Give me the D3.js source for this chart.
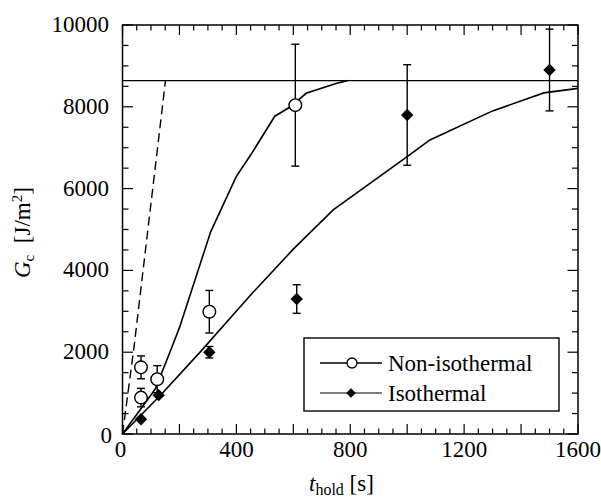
<!DOCTYPE html>
<html>
<head>
<meta charset="utf-8">
<script src="https://cdn.jsdelivr.net/npm/d3@7"></script>
<style>
  body { margin: 0; background: #fff; }
</style>
</head>
<body>
<div id="chart"></div>
<script>
// measured points
var nonIsoTime = [65, 65, 122, 305, 607];
var nonIsoGc = [1630, 890, 1340, 2990, 8040];
var nonIsoErr = [280, 225, 330, 520, 1490];

var isoTime = [65, 127, 305, 612, 1000, 1500];
var isoGc = [360, 950, 2000, 3300, 7800, 8900];
var isoErr = [0, 0, 140, 350, 1230, 1000];

// model curves
var nonIsoCurveT = [0, 115, 170, 200, 310, 400, 450, 535, 590, 645, 750, 790];
var nonIsoCurveG = [0, 1100, 2060, 2600, 4950, 6300, 6820, 7770, 8000, 8330, 8570, 8640];
var isoCurveT = [0, 135, 275, 450, 600, 740, 1000, 1080, 1300, 1480, 1600];
var isoCurveG = [0, 960, 2020, 3400, 4520, 5480, 6780, 7190, 7900, 8340, 8450];
var dashT = [0, 40, 151];
var dashG = [0, 2100, 8640];
var plateau = 8640;

var xTicks = [0, 400, 800, 1200, 1600];
var yTicks = [0, 2000, 4000, 6000, 8000, 10000];

var width = 601, height = 497;
var serif = "Liberation Serif";
var x = d3.scaleLinear().domain([0, 1600]).range([122.5, 578]);
var y = d3.scaleLinear().domain([0, 10000]).range([434, 25]);

var svg = d3.select("#chart").append("svg")
    .attr("width", width)
    .attr("height", height)
    .attr("font-family", serif);

var pairs = function(a, b) { return a.map(function(d, i) { return [d, b[i]]; }); };
var line = d3.line()
    .x(function(d) { return x(d[0]); })
    .y(function(d) { return y(d[1]); });

// frame
svg.append("rect")
    .attr("x", x(0)).attr("y", y(10000))
    .attr("width", x(1600) - x(0)).attr("height", y(0) - y(10000))
    .attr("fill", "none").attr("stroke", "#000").attr("stroke-width", 1.5);

// inward ticks on all four sides
var tickGroup = svg.append("g").attr("stroke", "#000").attr("stroke-width", 1.2);
d3.range(0, 1601, 50).forEach(function(t) {
  var len = t % 200 === 0 ? 10 : 5.5;
  tickGroup.append("line").attr("x1", x(t)).attr("x2", x(t)).attr("y1", y(0)).attr("y2", y(0) - len);
  tickGroup.append("line").attr("x1", x(t)).attr("x2", x(t)).attr("y1", y(10000)).attr("y2", y(10000) + len);
});
d3.range(0, 10001, 500).forEach(function(v) {
  var len = v % 2000 === 0 ? 10.5 : 6;
  tickGroup.append("line").attr("y1", y(v)).attr("y2", y(v)).attr("x1", x(0)).attr("x2", x(0) + len);
  tickGroup.append("line").attr("y1", y(v)).attr("y2", y(v)).attr("x1", x(1600)).attr("x2", x(1600) - len);
});

// tick labels
svg.selectAll(".xl").data(xTicks).enter().append("text")
    .attr("x", function(d) { return d === 0 ? x(d) - 2 : x(d); })
    .attr("y", 457)
    .attr("text-anchor", "middle")
    .attr("font-family", serif)
    .attr("font-size", 23)
    .text(function(d) { return d; });

svg.selectAll(".yl").data(yTicks).enter().append("text")
    .attr("x", function(d) { return d === 0 ? 112 : 109; })
    .attr("y", function(d) { return d === 0 ? y(d) + 9 : y(d) + 7; })
    .attr("text-anchor", "end")
    .attr("font-family", serif)
    .attr("font-size", 23)
    .text(function(d) { return d; });

// axis titles
var xt = svg.append("text").attr("x", 309).attr("y", 491)
    .attr("font-family", serif).attr("font-size", 23);
xt.append("tspan").attr("font-style", "italic").text("t");
xt.append("tspan").attr("dy", 4).attr("font-size", 16).text("hold");
xt.append("tspan").attr("dy", -4).text(" [s]");

var yt = svg.append("text")
    .attr("transform", "translate(30,278) rotate(-90)")
    .attr("font-family", serif)
    .attr("font-size", 23);
yt.append("tspan").attr("font-style", "italic").text("G");
yt.append("tspan").attr("dy", 4).attr("font-size", 15).text("c");
yt.append("tspan").attr("dy", -4).text("\u00a0\u00a0[J/m");
yt.append("tspan").attr("dy", -8).attr("font-size", 15).text("2");
yt.append("tspan").attr("dy", 8).text("]");

// plateau, curves
svg.append("line")
    .attr("x1", x(0)).attr("x2", x(1600)).attr("y1", y(plateau)).attr("y2", y(plateau))
    .attr("stroke", "#000").attr("stroke-width", 1.3);

svg.append("path").datum(pairs(dashT, dashG))
    .attr("d", line).attr("fill", "none")
    .attr("stroke", "#000").attr("stroke-width", 1.4).attr("stroke-dasharray", "9,5");

svg.append("path").datum(pairs(nonIsoCurveT, nonIsoCurveG))
    .attr("d", line).attr("fill", "none").attr("stroke", "#000").attr("stroke-width", 1.6);

svg.append("path").datum(pairs(isoCurveT, isoCurveG))
    .attr("d", line).attr("fill", "none").attr("stroke", "#000").attr("stroke-width", 1.6);

// error bars
function errorBars(ts, gs, es) {
  var g = svg.append("g").attr("stroke", "#000").attr("stroke-width", 1.4);
  ts.forEach(function(t, i) {
    if (!es[i]) return;
    var cx = x(t), top = y(gs[i] + es[i]), bot = y(gs[i] - es[i]);
    g.append("line").attr("x1", cx).attr("x2", cx).attr("y1", top).attr("y2", bot);
    g.append("line").attr("x1", cx - 4).attr("x2", cx + 4).attr("y1", top).attr("y2", top);
    g.append("line").attr("x1", cx - 4).attr("x2", cx + 4).attr("y1", bot).attr("y2", bot);
  });
}
errorBars(nonIsoTime, nonIsoGc, nonIsoErr);
errorBars(isoTime, isoGc, isoErr);

var diamond = function(r) { return "M0," + (-r) + "L" + r + ",0L0," + r + "L" + (-r) + ",0Z"; };

svg.selectAll(".iso").data(pairs(isoTime, isoGc)).enter().append("path")
    .attr("transform", function(d) { return "translate(" + x(d[0]) + "," + y(d[1]) + ")"; })
    .attr("d", diamond(6.2))
    .attr("fill", "#000");

svg.selectAll(".noniso").data(pairs(nonIsoTime, nonIsoGc)).enter().append("circle")
    .attr("cx", function(d) { return x(d[0]); })
    .attr("cy", function(d) { return y(d[1]); })
    .attr("r", 6.3)
    .attr("fill", "#fff").attr("stroke", "#000").attr("stroke-width", 1.4);

// legend
var lg = svg.append("g");
lg.append("rect").attr("x", 304).attr("y", 338).attr("width", 255).attr("height", 73)
    .attr("fill", "#fff").attr("stroke", "#000").attr("stroke-width", 1.4);
lg.append("line").attr("x1", 320).attr("x2", 382).attr("y1", 363).attr("y2", 363)
    .attr("stroke", "#000").attr("stroke-width", 1.4);
lg.append("circle").attr("cx", 352).attr("cy", 363).attr("r", 5)
    .attr("fill", "#fff").attr("stroke", "#000").attr("stroke-width", 1.3);
lg.append("line").attr("x1", 320).attr("x2", 382).attr("y1", 393).attr("y2", 393)
    .attr("stroke", "#000").attr("stroke-width", 1.2);
lg.append("path").attr("transform", "translate(351,393)").attr("d", diamond(4.8)).attr("fill", "#000");
lg.append("text").attr("x", 388).attr("y", 371)
    .attr("font-family", serif).attr("font-size", 23).text("Non-isothermal");
lg.append("text").attr("x", 388).attr("y", 401)
    .attr("font-family", serif).attr("font-size", 23).text("Isothermal");
</script>
</body>
</html>
